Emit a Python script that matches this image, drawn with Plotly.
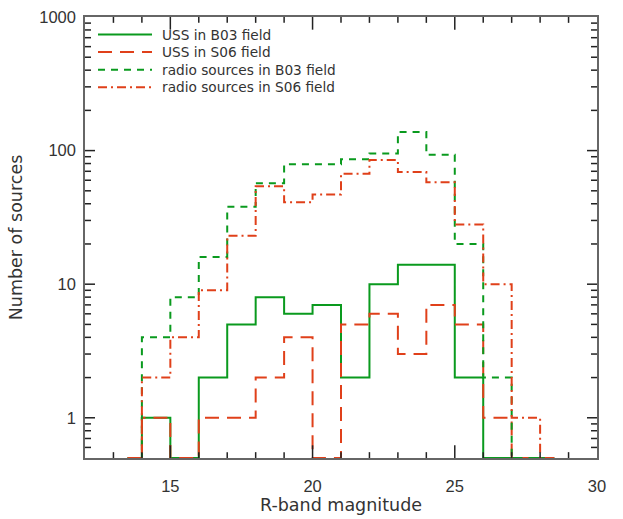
import math
import plotly.graph_objects as go

# Bin centres (1-mag bins, 13-14 ... 28-29)
bin_centers = [13.5, 14.5, 15.5, 16.5, 17.5, 18.5, 19.5, 20.5, 21.5, 22.5, 23.5, 24.5, 25.5, 26.5, 27.5, 28.5]

uss_b03 = [0, 1, 0, 2, 5, 8, 6, 7, 2, 10, 14, 14, 2, 0, 0, 0]
uss_s06 = [0, 1, 0, 1, 1, 2, 4, 0, 5, 6, 3, 7, 5, 1, 0, 0]
radio_b03 = [0, 4, 8, 16, 38, 57, 79, 79, 86, 95, 138, 93, 20, 2, 0, 0]
radio_s06 = [0, 2, 4, 9, 23, 54, 41, 47, 67, 85, 69, 58, 28, 10, 1, 0]

series_names = ["USS in B03 field", "USS in S06 field",
                "radio sources in B03 field", "radio sources in S06 field"]

x_ticks = [15, 20, 25, 30]
y_ticks = [1, 10, 100, 1000]
y_ticktext = ["1", "10", "100", "1000"]

XMIN, XMAX = 12, 30
YMIN, YMAX = 0.5, 1000
GREEN = "#0a9a1e"
RED = "#e0401a"


def clip(vals):
    # zero counts are drawn on the lower axis edge (like IDL clipping)
    return [v if v > 0 else YMIN for v in vals]


styles = [
    dict(color=GREEN, width=2, dash="solid"),
    dict(color=RED, width=2, dash="14px,8px"),
    dict(color=GREEN, width=2, dash="7px,6px"),
    dict(color=RED, width=2, dash="9px,4px,2px,4px"),
]

W, H = 623, 519
ML, MR, MT, MB = 85, 26, 8, 59
PW, PH = W - ML - MR, H - MT - MB

fig = go.Figure()
for name, vals, st in zip(series_names, [uss_b03, uss_s06, radio_b03, radio_s06], styles):
    fig.add_trace(go.Scatter(
        x=bin_centers, y=clip(vals), mode="lines", name=name,
        line=dict(shape="hvh", **st), showlegend=False,
    ))

# hand-drawn legend (IDL style: long line samples)
def px2paper(x, y):
    return (x - ML) / PW, 1 - (y - MT) / PH

legend_rows_y = [26, 44, 62, 80]
for name, st, yy in zip(series_names, styles, legend_rows_y):
    x0, y0 = px2paper(98, yy)
    x1, _ = px2paper(152, yy)
    fig.add_shape(type="line", xref="paper", yref="paper", x0=x0, x1=x1, y0=y0, y1=y0,
                  line=dict(color=st["color"], width=st["width"], dash=st["dash"]))
    tx, _ = px2paper(160, yy)
    fig.add_annotation(xref="paper", yref="paper", x=tx, y=y0, text=name, showarrow=False,
                       xanchor="left", yanchor="middle", font=dict(size=13.7, color="#333"))

# IDL-style inside ticks on all four sides (drawn as one path trace per side set)
TICK_COLOR = "#222"
tx_pts, ty_pts = [], []
for v in range(XMIN + 1, XMAX):
    L = 13 if v in x_ticks else 6
    f = L / PH
    for a, b in ((0, f), (1, 1 - f)):
        fig.add_shape(type="line", xref="x", yref="paper", x0=v, x1=v, y0=a, y1=b,
                      line=dict(color=TICK_COLOR, width=1.5), layer="above")
for dec in (0.1, 1, 10, 100):
    for m in range(1, 10):
        v = dec * m
        if YMIN < v < YMAX:
            L = 10 if m == 1 else 6
            f = L / PW
            for a, b in ((0, f), (1, 1 - f)):
                fig.add_shape(type="line", xref="paper", yref="y", x0=a, x1=b, y0=v, y1=v,
                              line=dict(color=TICK_COLOR, width=1.5), layer="above")

tick_font = dict(family="Liberation Sans, Arial, sans-serif", size=16.5, color="#333")
title_font = dict(family="DejaVu Sans, sans-serif", size=17.5, color="#333")

fig.update_layout(
    width=W, height=H,
    margin=dict(l=ML, r=MR, t=MT, b=MB),
    paper_bgcolor="white", plot_bgcolor="white",
    font=dict(family="DejaVu Sans, sans-serif", size=14, color="#333"),
    showlegend=False,
    xaxis=dict(
        range=[XMIN, XMAX], tickvals=x_ticks,
        showgrid=False, zeroline=False,
        showline=True, linecolor="#666", linewidth=1.5, mirror=True,
        ticks="outside", ticklen=12, tickcolor="rgba(0,0,0,0)",
        tickfont=tick_font,
        title=dict(text="R-band magnitude", font=title_font, standoff=4),
    ),
    yaxis=dict(
        type="log", range=[math.log10(YMIN), math.log10(YMAX)],
        tickvals=y_ticks, ticktext=y_ticktext,
        showgrid=False, zeroline=False,
        showline=True, linecolor="#666", linewidth=1.5, mirror=True,
        ticks="outside", ticklen=4, tickcolor="rgba(0,0,0,0)",
        tickfont=tick_font,
        title=dict(text="Number of sources", font=title_font, standoff=12),
    ),
)

fig.write_html("out.html")
